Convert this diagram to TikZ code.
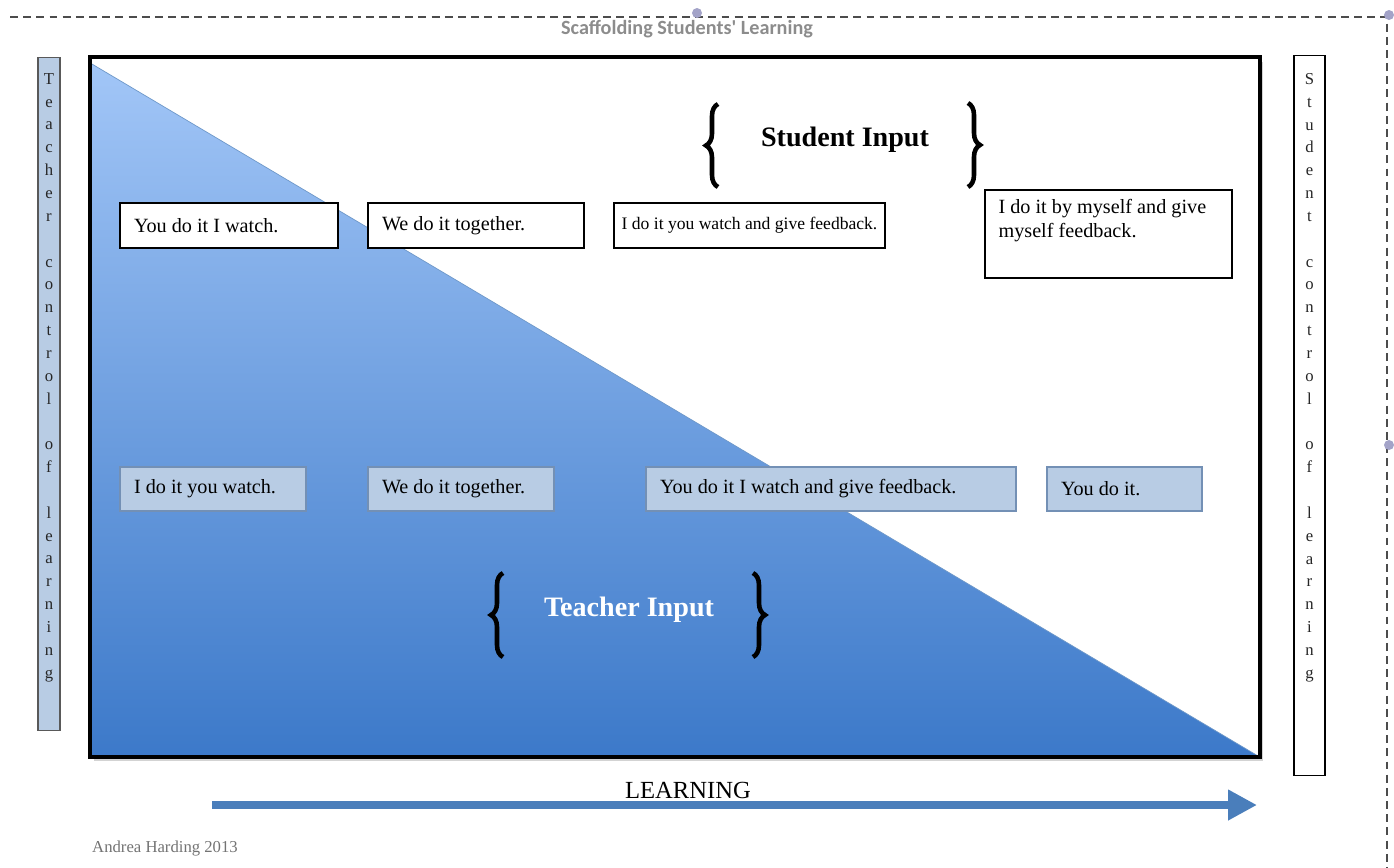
\documentclass[tikz,border=0pt]{standalone}
\usepackage{fontspec}
\setmainfont{Liberation Serif}
\newfontfamily\calibrifont{Carlito}
\usepackage{xcolor}
\usepackage{tikz}
\usetikzlibrary{shapes,arrows.meta,positioning,calc,shadows,decorations.pathreplacing}

\definecolor{boxblue}{HTML}{B8CCE4}
\definecolor{edgeblue}{HTML}{7390B5}
\definecolor{arrowblue}{HTML}{4A7EBB}
\definecolor{lighttri}{HTML}{A2C6F7}
\definecolor{darktri}{HTML}{3C79C9}
\definecolor{handle}{HTML}{A3A3C8}

\begin{document}
\begin{tikzpicture}[x=0.02cm, y=-0.02cm,
    topbox/.style={rectangle, draw=black, line width=0.9pt, fill=white, align=flush left, inner xsep=0.28cm, minimum height=0.9cm, font=\fontsize{11.5}{13.5}\selectfont},
    lowbox/.style={rectangle, draw=edgeblue, line width=0.8pt, fill=boxblue, align=flush left, inner xsep=0.28cm, minimum height=0.88cm, font=\fontsize{11.5}{13.5}\selectfont},
    sidebox/.style={rectangle, draw, line width=0.8pt, anchor=north, inner sep=0pt},
    sideletters/.style={align=center, anchor=north, inner sep=0pt, text=black!85, font=\fontsize{9.5}{13}\selectfont},
    inputlabel/.style={font=\fontsize{16}{18}\selectfont\bfseries},
    curly/.style={decorate, decoration={brace, amplitude=0.24cm}, line width=2.6pt}]

    \useasboundingbox (0,0) rectangle (1394,867);

    % Text box frame (dashed) and its handles
    \draw[black!70, line width=0.7pt, dash pattern=on 4.5pt off 3pt] (10,17) -- (1387,17) -- (1387,867);
    \fill[handle] (697,13) circle (5);
    \fill[handle] (1389,15) circle (5);
    \fill[handle] (1389,445) circle (5);

    \node[text=black!45, font=\calibrifont\fontsize{11.5}{13}\selectfont\bfseries] (title) at (687,29) {Scaffolding Students' Learning};

    % Main frame with the teacher triangle
    \node[fill=white, minimum width=23.4cm, minimum height=14cm, drop shadow={shadow xshift=0.07cm, shadow yshift=-0.09cm, opacity=0.35}] (frame) at (675,407) {};
    \shade[top color=lighttri, bottom color=darktri, draw=arrowblue!80, line width=0.4pt] ([yshift=-0.12cm]frame.north west) -- (frame.south west) -- (frame.south east) -- cycle;
    \draw[line width=2.3pt] (frame.north west) rectangle (frame.south east);

    % Left side - teacher control
    \node[sidebox, draw=black!65, fill=boxblue, minimum width=0.44cm, minimum height=13.46cm] (tcontrol) at (49,57) {};
    \node[sideletters] (tletters) at (49,73) {T\\e\\a\\c\\h\\e\\r\\[13pt]c\\o\\n\\t\\r\\o\\l\\[13pt]o\\f\\[13pt]l\\e\\a\\r\\n\\i\\n\\g};

    % Right side - student control
    \node[sidebox, fill=white, minimum width=0.62cm, minimum height=14.4cm] (scontrol) at (1309.5,55) {};
    \node[sideletters] (sletters) at (1309.5,73) {S\\t\\u\\d\\e\\n\\t\\[13pt]c\\o\\n\\t\\r\\o\\l\\[13pt]o\\f\\[13pt]l\\e\\a\\r\\n\\i\\n\\g};

    % Student input
    \node[inputlabel] (sinput) at (845,140) {Student Input};
    \draw[curly] (718,187) -- (718,104);
    \draw[curly] (968,103) -- (968,187);

    \node[topbox, text width=3.8cm] (s1) at (229,225.5) {You do it I watch.};
    \node[topbox, text width=3.76cm] (s2) at (476,225.5) {We do it together.};
    \node[topbox, inner xsep=0pt, minimum width=5.42cm, align=center, font=\fontsize{10}{12}\selectfont] (s3) at (749.5,225.5) {I do it you watch and give feedback.};
    \node[topbox, minimum width=4.94cm, minimum height=1.76cm] (s4) at (1108.5,234) {};
    \node[anchor=north west, align=flush left, inner xsep=0.28cm, inner ysep=0.2cm, font=\fontsize{11.5}{13.5}\selectfont] (s4text) at (s4.north west) {I do it by myself and give\\myself feedback.};

    % Teacher input
    \node[lowbox, text width=3.16cm] (t1) at (213,489) {I do it you watch.};
    \node[lowbox, text width=3.16cm] (t2) at (461,489) {We do it together.};
    \node[lowbox, text width=6.84cm] (t3) at (831,489) {You do it I watch and give feedback.};
    \node[lowbox, text width=2.54cm] (t4) at (1124.5,489) {You do it.};

    \node[inputlabel, text=white] (tinput) at (629,610) {Teacher Input};
    \draw[curly] (503,657) -- (503,573);
    \draw[curly] (753,573) -- (753,657);

    % Learning arrow
    \coordinate (lstart) at (212,805);
    \coordinate (lend) at (1257,805);
    \draw[arrowblue, line width=4.5pt, -{Triangle[length=0.58cm, width=0.58cm]}] (lstart) -- (lend);
    \node[font=\fontsize{14}{16}\selectfont] (learning) at (688,790) {LEARNING};

    \node[anchor=west, text=black!55, font=\fontsize{9.5}{11}\selectfont] (author) at (86,848) {Andrea Harding 2013};

\end{tikzpicture}
\end{document}
